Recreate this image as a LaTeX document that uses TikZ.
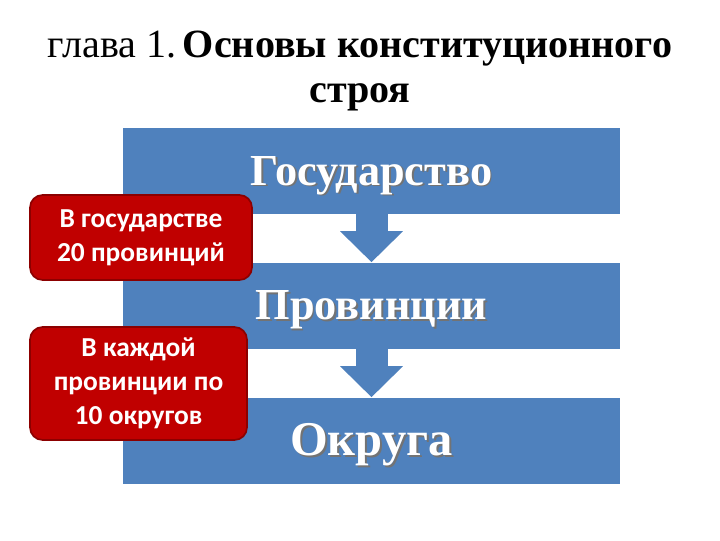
\documentclass[tikz,border=0pt]{standalone}
\usepackage{fontspec}
\setmainfont{Liberation Serif}
\setsansfont{Carlito}
\usepackage{tikz}
\usetikzlibrary{
  arrows.meta,%
  positioning
}
\definecolor{levelblue}{HTML}{4F81BD}
\definecolor{notered}{HTML}{C00000}
\definecolor{noteedge}{HTML}{8C0000}
% text with a soft shadow to the lower right
\newcommand{\shtext}[1]{\makebox[0pt][l]{\hspace{1.3pt}\raisebox{-1.3pt}{\color{black!55}#1}}#1}
\tikzset{
  level/.style={fill=levelblue, text=white, minimum width=497*0.025cm,
    minimum height=86*0.025cm, inner sep=0pt, text height=20pt, text depth=-2pt,
    font=\fontsize{31.5}{36}\selectfont\bfseries},
  note/.style={fill=notered, draw=noteedge, line width=1.2pt, rounded corners=9pt,
    text=white, align=center, inner sep=0pt,
    font=\sffamily\bfseries\fontsize{19.5}{24}\selectfont},
  flowarrow/.style={levelblue, line width=32*0.025cm,
    -{Triangle[width=61*0.025cm, length=31*0.025cm]}}
}
\begin{document}
\begin{tikzpicture}[x=0.025cm, y=-0.025cm]
  \useasboundingbox (0,0) rectangle (720,540);
  % title
  \node[align=center, font=\fontsize{28.5}{32.5}\selectfont] (title) at (360,71)
    {глава 1.\,\textbf{Основы конституционного}\\ \textbf{строя}};
  % levels
  \node[level] (state) at (371.5,171) {\shtext{Государство}};
  \node[level] (prov) at (371.5,305.5) {\shtext{Провинции}};
  \node[level, text height=22pt, font=\fontsize{34.5}{40}\selectfont\bfseries]
    (okrug) at (371.5,440.5) {\shtext{Округа}};
  \draw[flowarrow] (state.south) -- (prov.north);
  \draw[flowarrow] (prov.south) -- (okrug.north);
  % notes
  \node[note, minimum width=222*0.025cm, minimum height=85*0.025cm] (note1)
    at (141,237.5) {В государстве\\20 провинций};
  \node[note, minimum width=217*0.025cm, minimum height=113*0.025cm] (note2)
    at (138.5,383.5) {В каждой\\провинции по\\10 округов};
\end{tikzpicture}
\end{document}
